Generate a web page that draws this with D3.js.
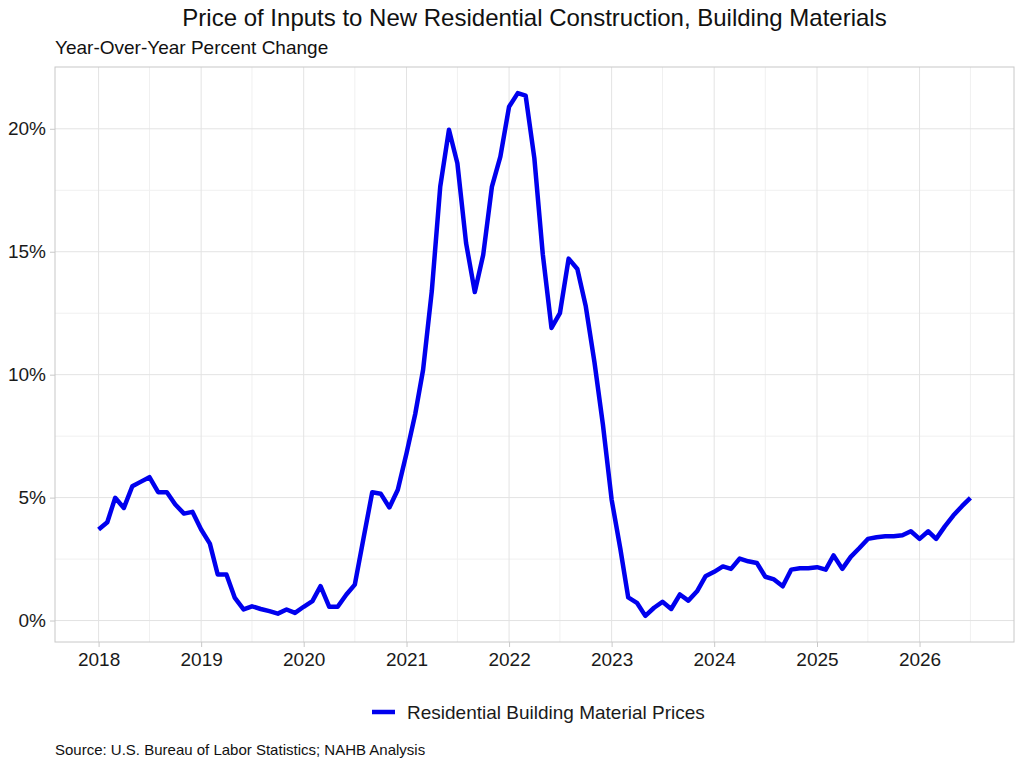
<!DOCTYPE html>
<html>
<head>
<meta charset="utf-8">
<script src="https://cdn.jsdelivr.net/npm/d3@7"></script>
<style>
  body { margin: 0; background: #fff; }
  text { font-family: "Liberation Sans", Arial, sans-serif; }
</style>
</head>
<body>
<div id="chart"></div>
<script>
// Monthly YoY percent change, Jan 2018 .. Jul 2026
const startMonth = "2018-01";
const values = [
  3.70, 4.00, 4.99, 4.58, 5.46, 5.65, 5.83, 5.22, 5.22, 4.72, 4.35, 4.42, // 2018
  3.70, 3.13, 1.87, 1.87, 0.92, 0.45, 0.58, 0.47, 0.38, 0.28, 0.45, 0.31, // 2019
  0.56, 0.79, 1.40, 0.56, 0.56, 1.06, 1.46, 3.35, 5.22, 5.16, 4.60, 5.32, // 2020
  6.80, 8.40, 10.2, 13.4, 17.65, 19.96, 18.6, 15.35, 13.36, 14.88, 17.65, 18.87, // 2021
  20.9, 21.45, 21.35, 18.8, 14.9, 11.9, 12.5, 14.72, 14.3, 12.78, 10.5, 7.97, // 2022
  4.92, 2.92, 0.94, 0.72, 0.19, 0.52, 0.76, 0.47, 1.06, 0.81, 1.19, 1.80, // 2023
  1.98, 2.20, 2.10, 2.52, 2.41, 2.34, 1.78, 1.67, 1.39, 2.07, 2.13, 2.13, // 2024
  2.17, 2.07, 2.65, 2.10, 2.59, 2.95, 3.32, 3.39, 3.43, 3.43, 3.47, 3.63, // 2025
  3.32, 3.63, 3.32, 3.83, 4.27, 4.65, 4.99 // 2026
];
const yearTicks = [2018, 2019, 2020, 2021, 2022, 2023, 2024, 2025, 2026];
const pctTicks = [0, 5, 10, 15, 20];
const pctMinor = [2.5, 7.5, 12.5, 17.5];
const seriesName = "Residential Building Material Prices";

const width = 1024, height = 768;
const panel = { left: 55, right: 1014, top: 67, bottom: 642 };

const parseMonth = d3.timeParse("%Y-%m");
const start = parseMonth(startMonth);
const data = values.map((v, i) => ({ date: d3.timeMonth.offset(start, i), value: v }));

const svg = d3.select("#chart").append("svg")
  .attr("width", width)
  .attr("height", height);

// x domain padded like ggplot (5% each side)
const t0 = data[0].date, t1 = data[data.length - 1].date;
const pad = (t1 - t0) * 0.05;
const x = d3.scaleTime()
  .domain([new Date(+t0 - pad), new Date(+t1 + pad)])
  .range([panel.left, panel.right]);

const yMin = d3.min(values), yMax = d3.max(values);
const yPad = (yMax - yMin) * 0.05;
const y = d3.scaleLinear()
  .domain([yMin - yPad, yMax + yPad])
  .range([panel.bottom, panel.top]);

const grid = svg.append("g");

// minor gridlines
const midYears = yearTicks.map(yr => new Date(yr, 6, 1))
  .filter(d => x(d) > panel.left && x(d) < panel.right);
grid.selectAll(".vminor").data(midYears).join("line")
  .attr("x1", d => x(d)).attr("x2", d => x(d))
  .attr("y1", panel.top).attr("y2", panel.bottom)
  .attr("stroke", "#f0f0f0").attr("stroke-width", 1);
grid.selectAll(".hminor").data(pctMinor).join("line")
  .attr("x1", panel.left).attr("x2", panel.right)
  .attr("y1", d => y(d)).attr("y2", d => y(d))
  .attr("stroke", "#f0f0f0").attr("stroke-width", 1);

// major gridlines
grid.selectAll(".vmajor").data(yearTicks).join("line")
  .attr("x1", d => x(new Date(d, 0, 1))).attr("x2", d => x(new Date(d, 0, 1)))
  .attr("y1", panel.top).attr("y2", panel.bottom)
  .attr("stroke", "#e3e3e3").attr("stroke-width", 1);
grid.selectAll(".hmajor").data(pctTicks).join("line")
  .attr("x1", panel.left).attr("x2", panel.right)
  .attr("y1", d => y(d)).attr("y2", d => y(d))
  .attr("stroke", "#e3e3e3").attr("stroke-width", 1);

// panel border
svg.append("rect")
  .attr("x", panel.left).attr("y", panel.top)
  .attr("width", panel.right - panel.left)
  .attr("height", panel.bottom - panel.top)
  .attr("fill", "none").attr("stroke", "#c8c8c8").attr("stroke-width", 1);

// axes
const xAxis = d3.axisBottom(x)
  .tickValues(yearTicks.map(yr => new Date(yr, 0, 1)))
  .tickFormat(d3.timeFormat("%Y"))
  .tickSize(5).tickPadding(6);
const gx = svg.append("g")
  .attr("transform", `translate(0,${panel.bottom})`)
  .call(xAxis);
gx.select(".domain").remove();
gx.selectAll("line").attr("stroke", "#c8c8c8");
gx.selectAll("text").attr("font-size", 19).attr("fill", "#1a1a1a")
  .attr("font-family", "Liberation Sans, Arial, sans-serif");

const yAxis = d3.axisLeft(y)
  .tickValues(pctTicks)
  .tickFormat(d => d + "%")
  .tickSize(5).tickPadding(4);
const gy = svg.append("g")
  .attr("transform", `translate(${panel.left},0)`)
  .call(yAxis);
gy.select(".domain").remove();
gy.selectAll("line").attr("stroke", "#c8c8c8");
gy.selectAll("text").attr("font-size", 19).attr("fill", "#1a1a1a")
  .attr("font-family", "Liberation Sans, Arial, sans-serif");

// line
const line = d3.line()
  .x(d => x(d.date))
  .y(d => y(d.value));
svg.append("path")
  .datum(data)
  .attr("d", line)
  .attr("fill", "none")
  .attr("stroke", "#0000ee")
  .attr("stroke-width", 4.5)
  .attr("stroke-linejoin", "round");

// titles
svg.append("text")
  .attr("x", (panel.left + panel.right) / 2).attr("y", 26)
  .attr("text-anchor", "middle")
  .attr("font-size", 24).attr("fill", "#111")
  .text("Price of Inputs to New Residential Construction, Building Materials");
svg.append("text")
  .attr("x", panel.left).attr("y", 54)
  .attr("font-size", 19).attr("fill", "#111")
  .text("Year-Over-Year Percent Change");

// legend
const legend = svg.append("g").attr("transform", "translate(372,712)");
legend.append("line")
  .attr("x1", 0).attr("x2", 23).attr("y1", 0).attr("y2", 0)
  .attr("stroke", "#0000ee").attr("stroke-width", 4.5);
legend.append("text")
  .attr("x", 35).attr("y", 7)
  .attr("font-size", 19).attr("fill", "#1a1a1a")
  .text(seriesName);

// source
svg.append("text")
  .attr("x", panel.left).attr("y", 755)
  .attr("font-size", 15).attr("fill", "#111")
  .text("Source: U.S. Bureau of Labor Statistics; NAHB Analysis");
</script>
</body>
</html>
